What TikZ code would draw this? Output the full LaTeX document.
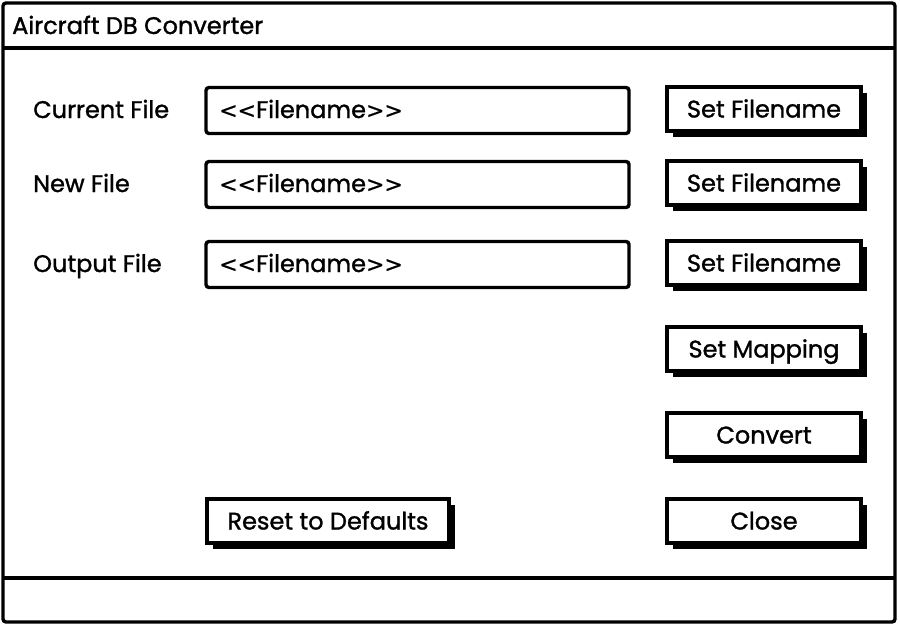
\documentclass[tikz,border=0pt]{standalone}
\usepackage{fontspec}
\setmainfont{Poppins}
\font\uifont="Poppins:embolden=1.3" at 24pt
\font\uisym="DejaVu Sans:embolden=0.6" at 22pt
\newcommand{\fnametext}{{\uisym<<}Filename{\uisym>>}}
\usetikzlibrary{shadows}
\tikzset{
  x=1pt, y=-1pt,
  ui/.style={font=\uifont},
  frame/.style={draw, line width=3.4pt, rounded corners=3pt},
  field/.style={draw, line width=3.4pt, rounded corners=3pt, minimum width=423pt, minimum height=46pt, inner sep=0pt},
  button/.style={ui, draw, line width=3.4pt, fill=white, minimum width=194pt, minimum height=44pt, inner sep=0pt,
    text height=17pt, text depth=0pt,
    general shadow={fill=black, shadow xshift=6pt, shadow yshift=-6pt}},
  label/.style={ui, anchor=base west, inner sep=0pt},
  fieldtext/.style={ui, anchor=base west, inner sep=0pt}
}
\begin{document}
\begin{tikzpicture}
\useasboundingbox (0,0) rectangle (900,626);
% window
\draw[frame] (3,3) rectangle (895,622);
\draw[line width=3.4pt] (3,48) -- (895,48);
\draw[line width=3.4pt] (3,578) -- (895,578);
\node[label] (title) at (12,34) {Aircraft DB Converter};
% labels
\node[label] (lcur) at (33,118) {Current File};
\node[label] (lnew) at (33,192) {New File};
\node[label] (lout) at (33,272) {Output File};
% fields
\node[field] (fcur) at (417.5,110.5) {};
\node[field] (fnew) at (417.5,184.5) {};
\node[field] (fout) at (417.5,264.5) {};
\node[fieldtext] (tcur) at (219,118) {\fnametext};
\node[fieldtext] (tnew) at (219,192) {\fnametext};
\node[fieldtext] (tout) at (219,272) {\fnametext};
% buttons
\node[button] (b1) at (764,109) {Set Filename};
\node[button] (b2) at (764,183) {Set Filename};
\node[button] (b3) at (764,263) {Set Filename};
\node[button] (b4) at (764,349) {Set Mapping};
\node[button] (b5) at (764,435) {Convert};
\node[button] (b6) at (764,521) {Close};
\node[button, minimum width=242pt] (reset) at (328,521) {Reset to Defaults};
\end{tikzpicture}
\end{document}
